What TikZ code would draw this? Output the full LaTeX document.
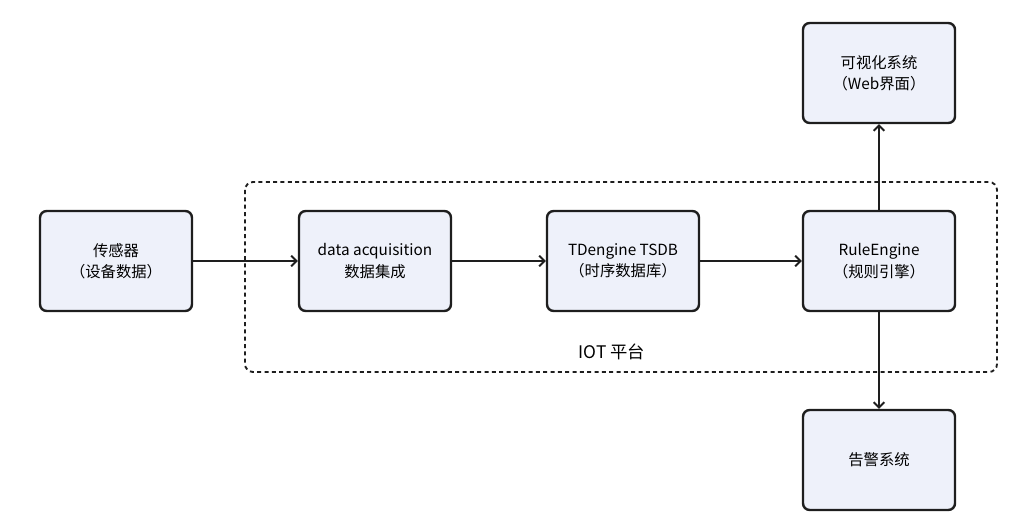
\documentclass[tikz,border=0pt]{standalone}
\usepackage{fontspec}
\setmainfont{Noto Sans CJK SC}
\usetikzlibrary{arrows.meta}
\definecolor{boxfill}{HTML}{EEF1FA}
\definecolor{boxline}{HTML}{1E1E1E}
\begin{document}
\begin{tikzpicture}[x=0.75pt,y=-0.75pt]
            \tikzset{blk/.style={draw=boxline,line width=1.8pt,fill=boxfill,rounded corners=5pt,
                minimum width=114pt,minimum height=75pt,align=center,font=\fontsize{11.5}{16}\selectfont}}
            \tikzset{flow/.style={draw=boxline,line width=1.4pt,-{Straight Barb[length=4pt,width=8pt]}}}
            \useasboundingbox (0,0) rectangle (1024,531);
            \draw[boxline,line width=1.4pt,dash pattern=on 3pt off 2.5pt,rounded corners=6pt] (245,182) rectangle (997,372);
            \node[font=\fontsize{13}{15}\selectfont] (plat) at (612,352) {IOT 平台};
            \node[blk] (sensor) at (116,261) {传感器\\（设备数据）};
            \node[blk] (acq) at (375,261) {data acquisition\\数据集成};
            \node[blk] (tsdb) at (623,261) {TDengine TSDB\\（时序数据库）};
            \node[blk] (rule) at (879,261) {RuleEngine\\（规则引擎）};
            \node[blk] (vis) at (879,73) {可视化系统\\（Web界面）};
            \node[blk] (alarm) at (879,460) {告警系统};
            \draw[flow] (sensor) -- (acq);
            \draw[flow] (acq) -- (tsdb);
            \draw[flow] (tsdb) -- (rule);
            \draw[flow] (rule) -- (vis);
            \draw[flow] (rule) -- (alarm);
        \end{tikzpicture}
\end{document}
